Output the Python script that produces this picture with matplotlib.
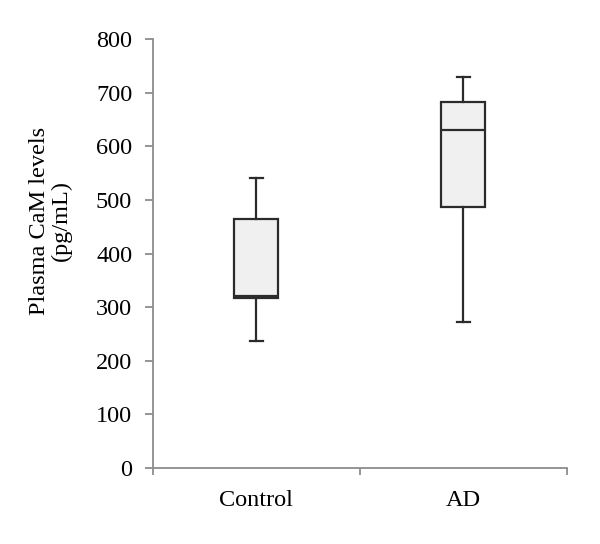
import matplotlib
matplotlib.use('Agg')
import matplotlib.pyplot as plt
import numpy as np

plt.rcParams['font.family'] = ['Liberation Serif', 'DejaVu Serif']

# box statistics (pg/mL)
groups = ['Control', 'AD']
whis_lo = [236, 273]
q1 = [317, 486]
median = [321, 631]
q3 = [464, 682]
whis_hi = [540, 730]

stats = []
for i in range(len(groups)):
    stats.append({'label': groups[i], 'whislo': whis_lo[i], 'q1': q1[i],
                  'med': median[i], 'q3': q3[i], 'whishi': whis_hi[i],
                  'fliers': []})

fig = plt.figure(figsize=(6, 5.44), dpi=100)
ax = fig.add_axes([0.255, 0.1397, 0.6895, 0.7886])

edge = '#2b2b2b'
ax.bxp(stats, positions=np.arange(len(groups)), widths=0.213,
       patch_artist=True, showfliers=False,
       boxprops=dict(facecolor='#f0f0f0', edgecolor=edge, linewidth=1.6),
       medianprops=dict(color=edge, linewidth=1.6),
       whiskerprops=dict(color=edge, linewidth=1.6),
       capprops=dict(color=edge, linewidth=1.6),
       capwidths=0.065)

ax.set_xlim(-0.5, len(groups) - 0.5)
ax.set_ylim(0, 800)
ax.set_yticks(np.arange(0, 801, 100))

# category separators as major ticks, names on minor ticks
ax.set_xticks(np.arange(-0.5, len(groups), 1.0))
ax.set_xticklabels([])
ax.set_xticks(np.arange(len(groups)), minor=True)
ax.set_xticklabels(groups, minor=True)

axis_col = '#8c8c8c'
for s in ['top', 'right']:
    ax.spines[s].set_visible(False)
for s in ['left', 'bottom']:
    ax.spines[s].set_color(axis_col)
    ax.spines[s].set_linewidth(1.3)

fs = 17.5
ax.tick_params(axis='y', direction='out', length=6, width=1.3, color=axis_col,
               labelsize=fs, pad=9)
ax.tick_params(axis='x', which='major', direction='out', length=5, width=1.3,
               color=axis_col)
ax.tick_params(axis='x', which='minor', length=0, labelsize=fs, pad=16)

ax.set_ylabel('Plasma CaM levels\n(pg/mL)', fontsize=fs, linespacing=1.05)
ax.yaxis.set_label_coords(-0.196, 0.576)

plt.savefig('out.png', dpi=100)
plt.close(fig)
